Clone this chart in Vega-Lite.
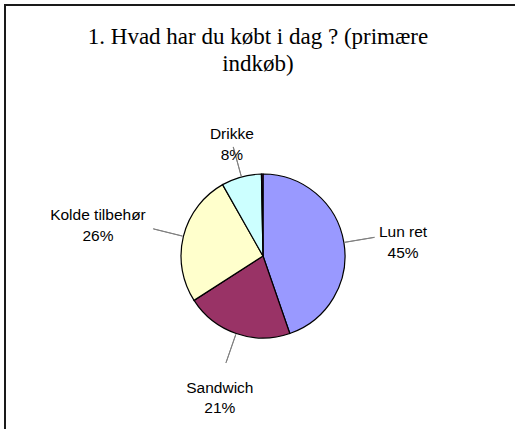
{
  "$schema": "https://vega.github.io/schema/vega-lite/v6.json",
  "width": 516,
  "height": 502,
  "autosize": {"type": "none"},
  "padding": {"left": 5, "top": 5, "right": -6, "bottom": -78},
  "background": "white",
  "view": {"stroke": "#1a1a1a", "strokeWidth": 2},
  "config": {"view": {"stroke": "#1a1a1a", "strokeWidth": 2}},
  "title": {
    "text": ["1. Hvad har du købt i dag ? (primære", "indkøb)"],
    "font": "Liberation Serif",
    "fontSize": 23,
    "fontWeight": "normal",
    "color": "black",
    "lineHeight": 27,
    "anchor": "middle",
    "frame": "group",
    "offset": -71,
    "dx": -5
  },
  "data": {
    "values": [
      {"category": "Lun ret", "value": 44.7, "pct": "45%", "order": 1},
      {"category": "Sandwich", "value": 21.2, "pct": "21%", "order": 2},
      {"category": "Kolde tilbehør", "value": 25.9, "pct": "26%", "order": 3},
      {"category": "Drikke", "value": 7.9, "pct": "8%", "order": 4},
      {"category": "Andet", "value": 0.3, "pct": "0%", "order": 5}
    ]
  },
  "transform": [
    {"window": [{"op": "sum", "field": "value", "as": "cum"}], "sort": [{"field": "order"}], "frame": [null, 0]},
    {"calculate": "datum.cum - datum.value", "as": "start"},
    {"calculate": "datum.cum - datum.value / 2", "as": "mid"},
    {"calculate": "datum.mid + 0.02", "as": "mid2"},
    {"calculate": "[datum.category, datum.pct]", "as": "label"}
  ],
  "layer": [
    {
      "mark": {"type": "arc", "radius": 82, "stroke": "black", "strokeWidth": 1.2},
      "encoding": {
        "theta": {"field": "start", "type": "quantitative", "scale": {"domain": [0, 100], "nice": false}},
        "theta2": {"field": "cum"},
        "color": {
          "field": "category",
          "type": "nominal",
          "scale": {
            "domain": ["Lun ret", "Sandwich", "Kolde tilbehør", "Drikke", "Andet"],
            "range": ["#9999FF", "#993366", "#FFFFCC", "#CCFFFF", "#660066"]
          },
          "legend": null
        }
      }
    },
    {
      "transform": [{"filter": "datum.value >= 1"}],
      "mark": {"type": "arc", "radius": 113, "radius2": 83, "filled": false, "stroke": "#808080", "strokeWidth": 1},
      "encoding": {
        "theta": {"field": "mid", "type": "quantitative", "scale": {"domain": [0, 100], "nice": false}},
        "theta2": {"field": "mid2"}
      }
    },
    {
      "transform": [{"filter": "datum.value >= 1 && datum.mid >= 12.5 && datum.mid < 37.5"}],
      "mark": {"type": "text", "radius": 142, "align": "center", "baseline": "middle", "font": "Liberation Sans", "fontSize": 15.5, "lineHeight": 20.5, "color": "black"},
      "encoding": {
        "theta": {"field": "mid", "type": "quantitative", "scale": {"domain": [0, 100], "nice": false}},
        "text": {"field": "label"}
      }
    },
    {
      "transform": [{"filter": "datum.value >= 1 && datum.mid >= 37.5 && datum.mid < 62.5"}],
      "mark": {"type": "text", "radius": 132, "align": "center", "baseline": "top", "font": "Liberation Sans", "fontSize": 15.5, "lineHeight": 20.5, "color": "black"},
      "encoding": {
        "theta": {"field": "mid", "type": "quantitative", "scale": {"domain": [0, 100], "nice": false}},
        "text": {"field": "label"}
      }
    },
    {
      "transform": [{"filter": "datum.value >= 1 && datum.mid >= 62.5 && datum.mid < 87.5"}],
      "mark": {"type": "text", "radius": 170, "align": "center", "baseline": "middle", "font": "Liberation Sans", "fontSize": 15.5, "lineHeight": 20.5, "color": "black"},
      "encoding": {
        "theta": {"field": "mid", "type": "quantitative", "scale": {"domain": [0, 100], "nice": false}},
        "text": {"field": "label"}
      }
    },
    {
      "transform": [{"filter": "datum.value >= 1 && (datum.mid >= 87.5 || datum.mid < 12.5)"}],
      "mark": {"type": "text", "radius": 118, "align": "center", "baseline": "bottom", "font": "Liberation Sans", "fontSize": 15.5, "lineHeight": 20.5, "color": "black"},
      "encoding": {
        "theta": {"field": "mid", "type": "quantitative", "scale": {"domain": [0, 100], "nice": false}},
        "text": {"field": "label"}
      }
    }
  ]
}
